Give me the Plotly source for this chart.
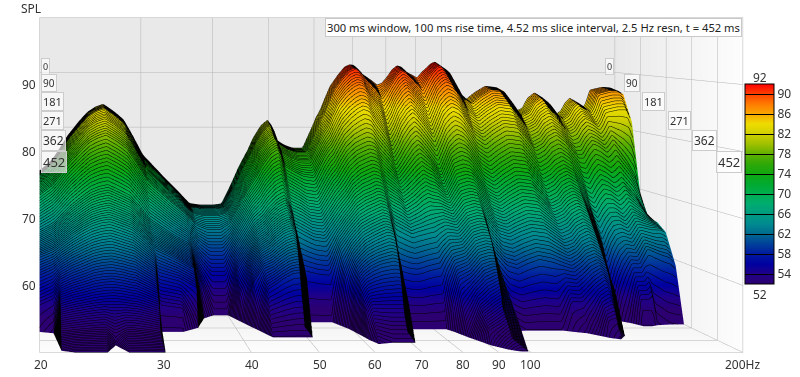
import numpy as np
import plotly.graph_objects as go

# ---- data ----
FREQS = [20,21,21.5,22.4,23.4,24.2,25,25.8,26.8,27.4,28,29,30.2,30.5,33,35,36.4,38,40,41.4,43,44.5,46,47,48.5,49.8,50.4,51,51.3,53.3,55,57.3,59.5,60.5,61.4,62.5,64,66,67.8,69.2,70.3,71,72.5,75.5,77.2,78.6,80,82,83.6,85,87,90.6,92.3,94,95.8,97.3,99.5,101,106,110,114,119,125,129,134,138,141,145,150,155,158,161,164,167,171,176,178,181,190,196,200]
# time (ms) at which each frequency has decayed to the 50 dB floor
T_END = [300,310,440,452,452,452,452,400,452,452,452,452,452,300,300,270,200,176,176,228,285,340,340,340,340,340,340,340,228,228,228,228,280,320,360,390,385,380,380,380,380,380,280,280,280,280,280,280,280,300,340,400,415,430,440,445,445,300,295,290,290,290,290,300,310,330,345,355,330,260,235,214,225,235,258,258,255,250,245,244,244]
# instants (ms) at which the levels below were read
TIMES = [0,30,60,90,120,150,180,215,250,290,340,390,452]
# SPL at those instants, one list per frequency, stopping before T_END
LEVELS = [
[72,71.7,70.6,69,66.4,63.8,62.2,60.6,58,54],
[74,73.6,72.4,70.7,67.9,65,63.3,61.5,59,55],
[75.5,75.1,73.8,72,69,66,64.2,62.3,60,57.4,54.5,51.9],
[78.5,78.1,76.7,74.6,71.2,67.9,65.8,63.7,61.2,58.3,55,52.1],
[81,80.5,79,76.7,73.1,69.5,67.2,65,62.2,59,55.4,52.3],
[82.7,82.2,80.6,78.2,74.4,70.6,68.2,65.8,62.9,59.6,55.7,52.4],
[83.7,83.2,81.5,79,75.1,71.2,68.7,66.3,63.3,59.9,55.9,52.5],
[84.2,83.7,82,79.5,75.5,71.5,69,66.5,63.5,60,56,51.5],
[83,82.5,80.9,78.5,74.6,70.7,68.3,65.9,63,59.7,55.8,52.4],
[82.2,81.7,80.1,77.8,74,70.2,67.9,65.5,62.7,59.4,55.6,52.4],
[81.3,80.8,79.3,77,73.3,69.7,67.4,65.1,62.4,59.2,55.5,52.3],
[78.5,78.1,76.7,74.6,71.3,68,65.9,63.8,61.2,58.3,55,52.1],
[75,74.6,73.4,71.6,68.6,65.7,63.9,62.1,59.9,57.3,54.4,51.8],
[74.5,74.1,72.9,71.1,68.3,65.4,63.6,61.8,58.5,54],
[70.7,70.4,69.3,67.9,65.4,63,61.5,60,57.5,53.5],
[68,67.8,67,65.7,63.5,61.5,60,58.5,56],
[66.1,65.9,65.2,63.8,61.5,58.5,55],
[65.8,65.6,64.8,63,60,56],
[65.8,65.6,64.8,63,60,56],
[66,65.8,65.3,64,62,60,58,54],
[69.5,69.2,68.2,67,65,62.5,60.5,59,57],
[73,72.7,71.5,70,67.5,65,63.3,61.5,59.5,56.5],
[75.8,75.4,74.1,72.3,69.3,66.3,64.4,62.5,60.2,57.5],
[78,77.6,76.2,74.2,70.9,67.6,65.6,63.5,61,58.2],
[80.3,79.8,78.4,76.2,72.6,69,66.8,64.6,62,59],
[81.3,80.8,79.3,77,73.3,69.7,67.4,65.1,62.4,59.2],
[80.2,79.7,78.3,76.1,72.5,69,66.8,64.6,62,59],
[78.5,78.1,76.7,74.6,71.3,68,65.9,63.8,61.2,58.3],
[77.8,77.4,76,74,70.8,67.6,64.5,58],
[76.7,76.3,75,73,69.8,66.8,63.5,57.5],
[76.2,75.8,74.5,72.3,68.8,65.8,62.8,57.2],
[76.2,75.8,74.5,72,68.5,65.5,62.5,57],
[80,79.5,78,75.5,71.5,68,65,62,57.5],
[81.8,81.3,79.5,76.7,72.7,69.2,66,63,59.5,55],
[83,82.5,80.5,77.5,73.5,70,67,64,61,58,53.5],
[85,84.5,82.5,79,75,71,68,65,62,59,55],
[87.5,87,84.7,81,76.7,72.7,69.5,66.2,63.2,59.8,55],
[89.5,89,86.5,82.5,78,74,70.5,67,64,60.5,55],
[91,90.4,87.5,83.5,78.6,74.6,71,67.6,64.6,60.8,55],
[91.4,90.8,88,84,79,75,71.5,68,65,61,55],
[91.3,90.7,87.8,83.8,78.8,74.8,71.3,67.8,64.8,60.8,55],
[90.8,90.2,87.5,83.5,78.5,74.5,71,67.5,64.5,60.5,55],
[89.8,89,86,82,77,73,69.5,65.5,58.5],
[88.5,87,83.5,79.5,75,71.5,68.5,64.5,58],
[87.7,85.5,81.5,77.5,73.5,70.5,67.5,64,58],
[88,86.7,83,79,74.7,71.2,68,64.3,58.2],
[88.9,88,85,81,76,72,68.5,64.5,58.5],
[90.5,89.8,86.7,82.7,77.7,73.2,69.5,64.8,58.8],
[91.2,90.5,87.5,83.5,78.5,74,70,65,59],
[91,90.1,86.8,82.8,77.8,73.5,69.7,65.5,60.5,54],
[90,89,85.5,81.5,76.5,73,69.5,66,62,58],
[89,87,83,79,74,71,68.5,65.5,62.5,59,55,52],
[90,88.7,85,81,76,72.7,69.8,66.5,63.5,60,55.7,52.5],
[90.8,90,87,83,78,74.5,71,67.5,64.5,61,56.5,53],
[91.6,91,88,84,79,74.8,71.3,67.8,64.8,61.3,57,53.7],
[91.9,91.3,88.5,84.5,79.5,75,71.5,68,65,61.5,57.5,54],
[91.2,90.6,88,84,79,74.7,71.2,67.8,64.8,61.3,57.3,54],
[90.5,90,87.3,83.3,78.3,74,70.5,66.5,62,55],
[86.5,86,83.3,79.7,75.2,71,67.7,64,59.5],
[85,84.5,82,78.5,74,70,67,63.5,59],
[86.3,85.8,83.3,79.8,75.3,71.3,68,64.3,59.8],
[87.5,87,84.5,81,76.5,72.5,69,65,60.5],
[87.2,86.7,84.2,80.7,76.2,72.2,68.7,64.7,60],
[85.3,84.8,82.3,79,74.5,70.7,67.5,63.7,59.5,54.5],
[82.8,82.3,80,76.7,72.5,68.8,66,62.5,59,54.5],
[83.5,83,80.7,77.5,73.3,69.5,66.7,63,60,56],
[85.3,84.7,82.2,78.8,74.3,70.8,67.8,64.3,61,57,52.5],
[86.3,85.7,83,79.5,75,71.5,68.5,65,61.5,58,53],
[85,84.4,81.8,78.3,74,70.5,67.5,64,60.5,56.5],
[83,82.4,80,76.5,72,68,64.5,60,55],
[82.3,81.8,79.3,75.5,70.5,66,62,57],
[83,82.4,79.8,75.5,70,65,59],
[84.5,83.9,81.2,77,71.5,66.5,61.5,54],
[85.3,84.7,82,78,72.5,67.5,63,56.5],
[84.5,84,81.5,77.5,72,67.5,63.5,59,54],
[83.5,83,80.5,76.5,71,66.5,63,59,54],
[84.5,84,81.3,77,71.3,67,63.8,60,54.5],
[86.8,86.2,83,78,72,68,65,61.5],
[87.3,86.8,83.5,75,69.5,66.5,64.5,60.5],
[87.2,86.8,83.5,72.5,67,65.5,64.5,60],
[86.8,86.2,81.5,69,65.5,65.2,64,59],
]
assert len(FREQS)==len(T_END)==len(LEVELS)
FREQ_TICKS = [20,30,40,50,60,70,80,90,100,200]
SPL_TICKS = [60,70,80,90]
TIME_TICKS = [0,90,181,271,362,452]
CBAR_TICKS = [54,58,62,66,70,74,78,82,86,90]
TITLE = "300 ms window, 100 ms rise time, 4.52 ms slice interval, 2.5 Hz resn, t = 452 ms"
STOPS = [52,54,56,58,60,62,64,66,68,70,72,74,76,78,80,82,84,86,88,90,92]
STOP_COLORS = ['#2c0070','#200088','#0000a0','#001aa0','#00409a','#006a90','#008a90','#009a80','#00ac70','#00ad50','#00aa30','#10a810','#30a808','#60b000','#a0c000','#d0d000','#eedc00','#f8a800','#ff7a00','#ff4000','#ff0000']
COLORS = [[(s-52)/40,c] for s,c in zip(STOPS,STOP_COLORS)]

W,H = 800,377
L,R,T,B = 40.5,742,18,352
K0 = 0.818
FLOOR = 50
def kk(t): return K0+(1-K0)*np.asarray(t,float)/452
def px(f,t): return L+np.log10(np.asarray(f,float)/20)*(R-L)*kk(t)
def py(s,t): return T+(100-np.asarray(s,float))*(B-T)/50*kk(t)

nt = len(TIMES)
tt = np.array([[*TIMES[:len(c)],*[e]*(nt-len(c))] for c,e in zip(LEVELS,T_END)],float).T
sp = np.array([[*c,*[FLOOR]*(nt-len(c))] for c in LEVELS],float).T
ff = np.tile(np.array(FREQS,float),(nt,1))
X = px(ff,tt); Z = -py(sp,tt); Y = 452-tt

fig = go.Figure()
def wall(xs,zs,c,cs):
    fig.add_trace(go.Surface(x=xs,y=[[640,640],[640,640]],z=zs,surfacecolor=c,cmin=0,cmax=1,colorscale=cs,showscale=False,hoverinfo='skip',
       lighting=dict(ambient=1,diffuse=0,specular=0,fresnel=0,roughness=1)))
grey=[[0,'#e9e9e9'],[1,'#fdfdfd']]
fmin,fmax=20,200
wall([[px(fmin,0),px(fmax,0)],[px(fmin,0),px(fmax,0)]],[[-py(50,0),-py(50,0)],[-py(100,0),-py(100,0)]],[[0,0],[0,0]],grey)
wall([[px(fmax,0),px(fmax,452)],[px(fmax,0),px(fmax,452)]],[[-py(50,0),-py(50,452)],[-py(100,0),-py(100,452)]],[[0,1],[0,1]],grey)
wall([[px(fmin,0),px(fmax,0)],[px(fmin,452),px(fmax,452)]],[[-py(50,0),-py(50,0)],[-py(50,452),-py(50,452)]],[[0,0],[1,1]],grey)

gx,gz=[],[]
def seg(x0,y0,x1,y1):
    gx.extend([float(x0),float(x1),None]); gz.extend([-float(y0),-float(y1),None])
for s in SPL_TICKS+[100]:
    seg(px(fmin,0),py(s,0),px(fmax,0),py(s,0))
    seg(px(fmax,0),py(s,0),px(fmax,452),py(s,452))
for f in FREQ_TICKS:
    seg(px(f,0),py(100,0),px(f,0),py(50,0))
    seg(px(f,0),py(50,0),px(f,452),py(50,452))
for t in TIME_TICKS:
    seg(px(fmin,t),py(50,t),px(fmax,t),py(50,t))
    seg(px(fmax,t),py(50,t),px(fmax,t),py(100,t))
seg(L,T,L,B)
fig.add_trace(go.Scatter3d(x=gx,y=[None if v is None else 620 for v in gx],z=gz,mode='lines',line=dict(color='#b4b4b4',width=1),hoverinfo='skip',showlegend=False))

fig.add_trace(go.Surface(x=X,y=Y,z=Z,surfacecolor=sp,cmin=52,cmax=92,colorscale=COLORS,hoverinfo='skip',
    lighting=dict(ambient=1,diffuse=0,specular=0,fresnel=0,roughness=1),
    contours=dict(y=dict(show=True,start=0,end=452,size=4.52,color='#000000',width=1)),
    colorbar=dict(x=745/W,xanchor='left',xpad=0,ypad=0,y=1-184/H,yanchor='middle',len=200/H,lenmode='fraction',thickness=29,thicknessmode='pixels',
      tickvals=CBAR_TICKS,ticks='inside',ticklen=29,tickcolor='#000000',tickwidth=1,outlinecolor='#000000',outlinewidth=1,
      tickfont=dict(family='Noto Sans',size=12,color='#333333'))))

ann=[]
def text(x,y,s,size=12,xa='center',ya='middle',**kw):
    ann.append(dict(x=float(x)/W,y=1-float(y)/H,xref='paper',yref='paper',text=s,showarrow=False,xanchor=xa,yanchor=ya,
        font=dict(family='Noto Sans',size=size,color='#333333'),**kw))
text(19,8,'SPL',xa='left')
for s in SPL_TICKS: text(38,py(s,452),str(s),xa='right')
for f in FREQ_TICKS[:-1]: text(px(f,452),364,str(f))
text(742,364,'200Hz')
text(760,77,'92'); text(760,294,'52')
box=dict(bgcolor='rgba(255,255,255,0.65)',bordercolor='#cccccc',borderwidth=1,borderpad=1)
lab_y=[66,83,101,120,140,162]; lab_s=[9,10,11,11,12,13]
for t,y,s in zip(TIME_TICKS,lab_y,lab_s):
    text(41,y,str(t),size=s,xa='left',**box)
    text(px(fmax,t),y,str(t),size=s,xa='right',**box)
ann.append(dict(x=742/W,y=1-18/H,xref='paper',yref='paper',xanchor='right',yanchor='top',text=TITLE,showarrow=False,
    bgcolor='#ffffff',bordercolor='#c8c8c8',borderwidth=1,borderpad=1,font=dict(family='Noto Sans',size=11.2,color='#222222')))

ax=dict(visible=False,showspikes=False)
SCALE = 2.005
fig.update_layout(width=W,height=H,showlegend=False,paper_bgcolor='#ffffff',
    margin=dict(l=0,r=0,t=0,b=0,autoexpand=False),annotations=ann,
    scene=dict(domain=dict(x=[0,1],y=[0,1]),bgcolor='rgba(0,0,0,0)',
      xaxis=dict(range=[0,W],**ax),yaxis=dict(range=[-50,650],**ax),zaxis=dict(range=[-H,0],**ax),
      aspectmode='manual',aspectratio=dict(x=SCALE*W/H,y=0.5,z=SCALE),
      camera=dict(projection=dict(type='orthographic'),eye=dict(x=0,y=-1.5,z=0),up=dict(x=0,y=0,z=1),center=dict(x=0,y=0,z=0))))
fig.write_html("out.html",config=dict(displayModeBar=False),post_script="document.body.style.margin='0';document.documentElement.style.overflow='hidden';")
